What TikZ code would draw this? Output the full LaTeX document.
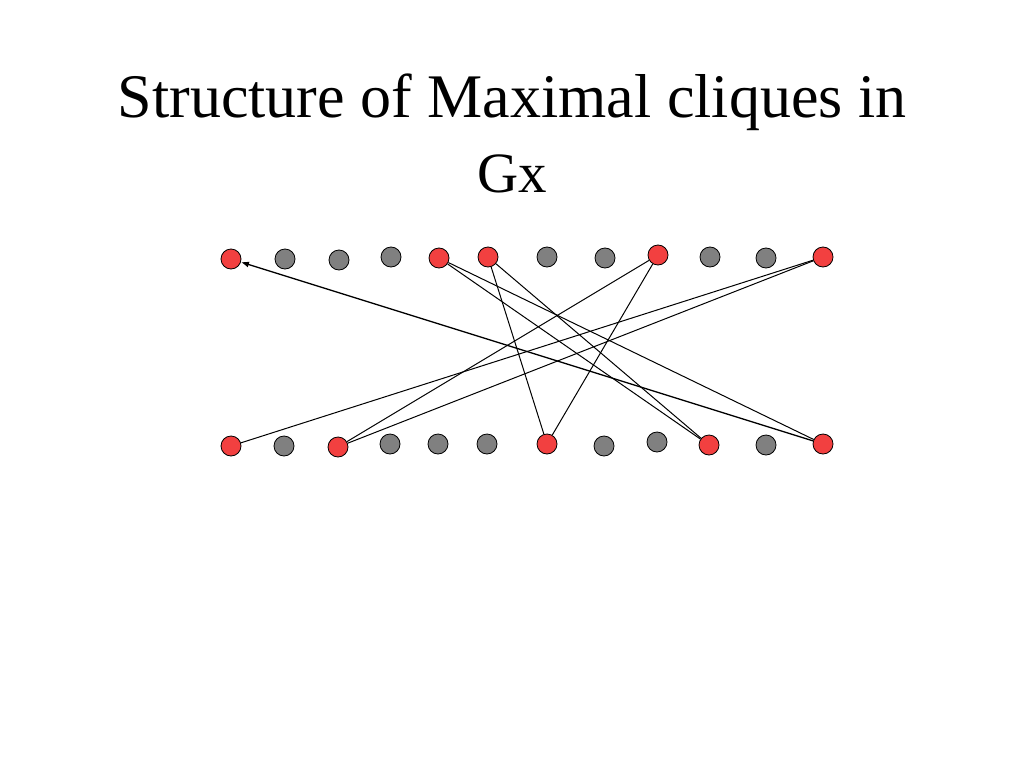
\documentclass[tikz,border=0pt]{standalone}
\usepackage{fontspec}
\setmainfont{Liberation Serif}
\usetikzlibrary{arrows.meta}
\definecolor{dotred}{RGB}{242,64,64}
\definecolor{dotgray}{RGB}{128,128,128}
\begin{document}
\begin{tikzpicture}[x=1pt,y=-1pt,
  dot/.style={circle,draw=black,line width=0.8pt,minimum size=20pt,inner sep=0pt},
  rdot/.style={dot,fill=dotred},
  gdot/.style={dot,fill=dotgray},
  edge/.style={draw=black,line width=1pt},
  titletext/.style={anchor=base,inner sep=0pt}]
\useasboundingbox (0,0) rectangle (1024,768);
\node[titletext,font=\fontsize{62}{70}\selectfont] (title1) at (512,117) {Structure of Maximal cliques in};
\node[titletext,font=\fontsize{57}{64}\selectfont] (title2) at (512,192) {Gx};
% top row
\node[rdot] (t1) at (231,259) {};
\node[gdot] (t2) at (285,259) {};
\node[gdot] (t3) at (339,260) {};
\node[gdot] (t4) at (391,257) {};
\node[rdot] (t5) at (439,258) {};
\node[rdot] (t6) at (488,257) {};
\node[gdot] (t7) at (547,257) {};
\node[gdot] (t8) at (605,258) {};
\node[rdot] (t9) at (658,255) {};
\node[gdot] (t10) at (710,257) {};
\node[gdot] (t11) at (766,258) {};
\node[rdot] (t12) at (823,257) {};
% bottom row
\node[rdot] (b1) at (231,446) {};
\node[gdot] (b2) at (284,446) {};
\node[rdot] (b3) at (338,447) {};
\node[gdot] (b4) at (390,444) {};
\node[gdot] (b5) at (438,444) {};
\node[gdot] (b6) at (487,444) {};
\node[rdot] (b7) at (547,444) {};
\node[gdot] (b8) at (604,446) {};
\node[gdot] (b9) at (657,442) {};
\node[rdot] (b10) at (709,445) {};
\node[gdot] (b11) at (766,445) {};
\node[rdot] (b12) at (823,444) {};
% edges
\draw[edge] (t12) -- (b1);
\draw[edge] (t12) -- (b3);
\draw[edge] (t9) -- (b3);
\draw[edge] (t9) -- (b7);
\draw[edge] (t6) -- (b7);
\draw[edge] (t6) -- (b10);
\draw[edge] (t5) -- (b10);
\draw[edge] (t5) -- (b12);
\draw[edge,line width=1.3pt,-{Latex[length=8pt,width=6pt]}] (b12) -- (t1);
\end{tikzpicture}
\end{document}
